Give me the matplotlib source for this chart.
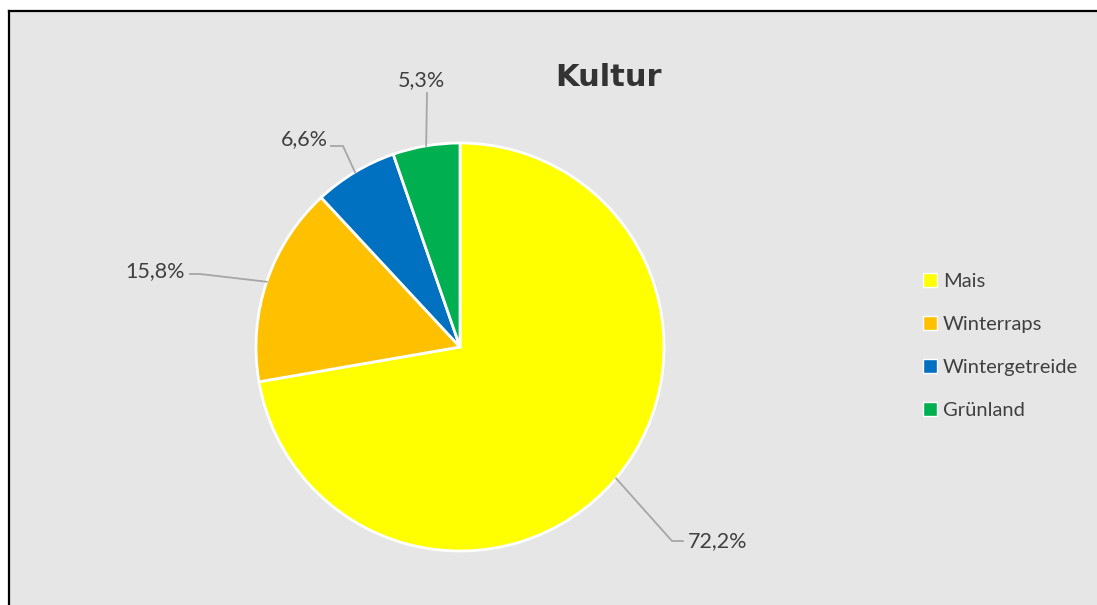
import numpy as np
import matplotlib
matplotlib.use("Agg")
import matplotlib.pyplot as plt
from matplotlib.patches import Rectangle, Patch
from matplotlib.lines import Line2D

# data
categories = ["Mais", "Winterraps", "Wintergetreide", "Grünland"]
shares = [72.2, 15.8, 6.6, 5.3]
colors = ["#FFFF00", "#FFC000", "#0070C0", "#00B050"]

W, H = 1097, 605
cx, cy, r = 460, 347, 204  # pie centre / radius in pixels
bg = "#E6E6E6"
txt = "#404040"
lead = "#A6A6A6"

fig = plt.figure(figsize=(W / 100, H / 100), dpi=100)
fig.patch.set_facecolor("white")

# chart area (only left and top border visible)
fig.patches.append(Rectangle((9 / W, 0), 1, 1 - 11 / H, transform=fig.transFigure,
                             facecolor=bg, edgecolor="none", zorder=-5))
fig.lines.append(Line2D([9 / W, 9 / W], [0, 1 - 11 / H], transform=fig.transFigure,
                        color="black", lw=1.6, zorder=-4))
fig.lines.append(Line2D([9 / W, 1.01], [1 - 11 / H, 1 - 11 / H], transform=fig.transFigure,
                        color="black", lw=1.6, zorder=-4))

ax = fig.add_axes([(cx - r) / W, (H - cy - r) / H, 2 * r / W, 2 * r / H])
ax.set_facecolor("none")
ax.set_zorder(2)
wedges, _ = ax.pie(shares, colors=colors, startangle=90, counterclock=False,
                   wedgeprops=dict(edgecolor="white", linewidth=2.0))
ax.set_xlim(-1, 1)
ax.set_ylim(-1, 1)
ax.set_aspect("equal")
ax.axis("off")


def px(x, y):
    return (x - cx) / r, (cy - y) / r


# label layout: knee point, end point, text position, alignment (pixels)
layout = [
    ((672, 541), (683, 541), (688, 541), "left"),
    ((200, 274), (190, 274), (185, 271), "right"),
    ((343, 146), (331, 146), (328, 139), "right"),
    ((427, 93), (427, 93), (421, 80), "center"),
]

total = sum(shares)
cum = 0
for v, (knee, end, tpos, ha) in zip(shares, layout):
    mid = (cum + v / 2) / total * 2 * np.pi
    cum += v
    sx, sy = np.sin(mid), np.cos(mid)
    kx, ky = px(*knee)
    ex, ey = px(*end)
    ax.plot([sx, kx, ex], [sy, ky, ey], color=lead, lw=1.3, clip_on=False, zorder=5)
    tx, ty = px(*tpos)
    ax.text(tx, ty, f"{v:.1f}%".replace(".", ","), ha=ha, va="center",
            fontsize=15.5, color=txt, family="Lato")

fig.text(608 / W, 1 - 77 / H, "Kultur", ha="center", va="center",
         fontsize=22, fontweight="bold", family="DejaVu Sans", color="#333333")

handles = [Patch(facecolor=c, edgecolor="white", linewidth=1.0) for c in colors]
fig.legend(handles, categories, loc="center left", bbox_to_anchor=(923 / W, 1 - 346 / H),
           frameon=False, borderpad=0, borderaxespad=0, handlelength=0.7, handleheight=0.7,
           handletextpad=0.3, labelspacing=1.3, prop=dict(family="Lato", size=14.5),
           labelcolor=txt)

fig.savefig("out.png", dpi=100, facecolor=fig.get_facecolor())
